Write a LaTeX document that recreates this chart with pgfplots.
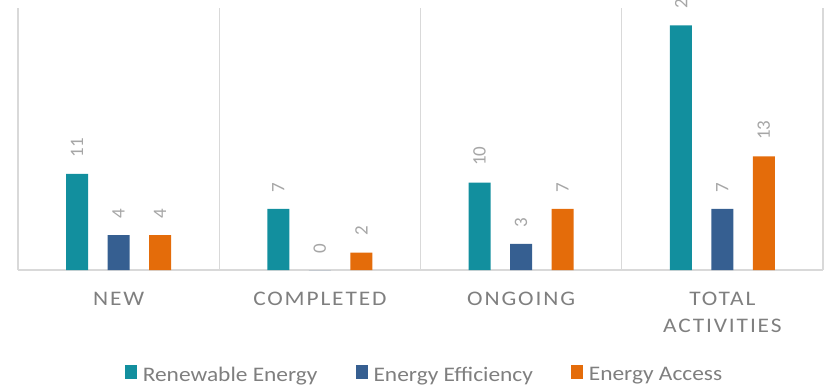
\documentclass[border=0pt]{standalone}
\usepackage{fontspec}
\setmainfont{Carlito}[FakeStretch=1.13]
\newfontfamily\catfont{Carlito}[FakeStretch=1.13, LetterSpace=9]
\newfontfamily\numfont{Carlito}
\usepackage{pgfplots}
\pgfplotsset{compat=1.18}

\definecolor{reTeal}{RGB}{18,143,158}
\definecolor{eeBlue}{RGB}{54,95,145}
\definecolor{eaOrange}{RGB}{228,108,10}
\definecolor{gridGray}{RGB}{217,217,217}
\definecolor{textGray}{RGB}{127,127,127}
\definecolor{labelGray}{RGB}{166,166,166}

\begin{document}
\begin{tikzpicture}
\useasboundingbox (-18bp,-119bp) rectangle (806bp,270bp);
\begin{axis}[
  at={(0,0)}, anchor=south west,
  scale only axis,
  width=805bp, height=262bp,
  xmin=-0.5, xmax=3.5,
  ymin=0, ymax=30,
  axis line style={draw=none},
  xtick={0,1,2,3},
  xticklabels={NEW, COMPLETED, ONGOING, {TOTAL\\ACTIVITIES}},
  major tick length=0pt,
  xticklabel style={font=\catfont\fontsize{20.7bp}{26.7bp}\selectfont,
    text=textGray, align=center, anchor=north, inner sep=0pt, yshift=-22bp},
  extra x ticks={-0.5,0.5,1.5,2.5,3.5},
  extra x tick labels={},
  extra x tick style={xmajorgrids=true},
  ytick={0},
  yticklabels={},
  ymajorgrids=true,
  grid style={draw=gridGray, line width=1.4bp},
  ybar,
  bar width=22bp,
  /pgf/number format/assume math mode=true,
  nodes near coords,
  every node near coord/.append style={font=\numfont\fontsize{19bp}{22bp}\selectfont,
    text=labelGray, rotate=90, anchor=west, inner ysep=0pt, inner xsep=16.5bp},
  legend columns=3,
  legend image code/.code={
    \fill[#1, draw=none] (0bp,-4bp) rectangle (12.5bp,9.3bp);
    \path (18bp,0bp);
  },
  legend style={draw=none, fill=none, at={(0.5,0)}, anchor=center,
    xshift=3bp, yshift=-104bp,
    font=\fontsize{20.7bp}{24bp}\selectfont, text=textGray,
    nodes={inner sep=0pt},
    /tikz/every even column/.append style={column sep=38bp}},
]
\addplot[fill=reTeal, draw=none, bar shift=-41.5bp]
  coordinates {(0,11) (1,7) (2,10) (3,28)};
\addplot[fill=eeBlue, draw=none, bar shift=0bp]
  coordinates {(0,4) (1,0) (2,3) (3,7)};
\addplot[fill=eaOrange, draw=none, bar shift=41.5bp]
  coordinates {(0,4) (1,2) (2,7) (3,13)};
\legend{Renewable Energy, Energy Efficiency, Energy Access}
\end{axis}
\end{tikzpicture}
\end{document}
